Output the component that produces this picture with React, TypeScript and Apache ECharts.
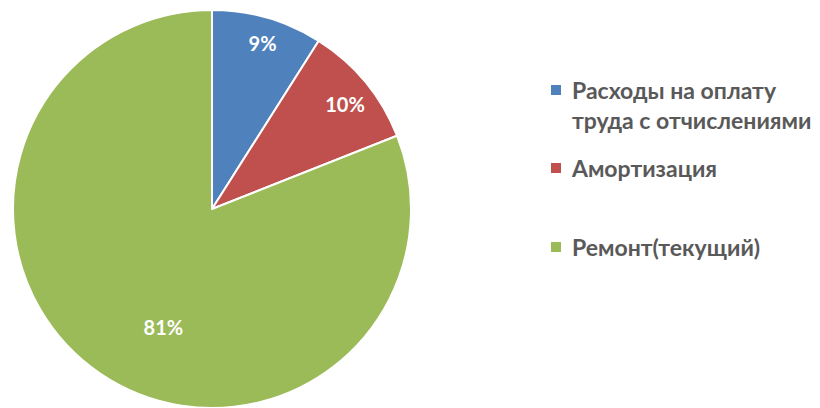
import React, { useEffect, useRef } from "react";
import * as echarts from "echarts";

const categories = ["Расходы на оплату труда с отчислениями", "Амортизация", "Ремонт(текущий)"];
const legendTexts = [" \nРасходы на оплату\nтруда с отчислениями", "Амортизация", "Ремонт(текущий)"];
const values = [9, 10, 81];
const colors = ["#4F81BD", "#C0504D", "#9BBB59"];

const FONT = "Lato, 'Open Sans', sans-serif";

export default function App() {
  const ref = useRef<HTMLDivElement>(null);
  useEffect(() => {
    if (!ref.current) return;
    const chart = echarts.init(ref.current, null, { renderer: "svg" });
    const labelShift = [
      [22, -68],
      [54, -40],
      [9, 33],
    ];
    const legendTops = [45, 153, 232];
    const legends = categories.map((name, i) => ({
      orient: "vertical",
      left: 551,
      top: legendTops[i],
      padding: 0,
      itemWidth: 16,
      itemHeight: 10,
      icon: "path://M0,0h10v10h-10z M16,0h0.01",
      selectedMode: false,
      formatter: () => legendTexts[i],
      data: [name],
      itemStyle: { borderWidth: 0 },
      textStyle: {
        fontFamily: FONT,
        fontWeight: "bold",
        fontSize: 23,
        color: "#595959",
        lineHeight: 30,
      },
    }));
    chart.setOption({
      animation: false,
      color: colors,
      legend: legends,
      series: [
        {
          type: "pie",
          center: [212, 209],
          radius: 199,
          startAngle: 90,
          clockwise: true,
          itemStyle: { borderColor: "#ffffff", borderWidth: 2 },
          label: {
            position: "inside",
            formatter: "{d}%",
            color: "#ffffff",
            fontFamily: FONT,
            fontWeight: "bold",
            fontSize: 20,
          },
          labelLayout: (p: any) => ({ dx: labelShift[p.dataIndex][0], dy: labelShift[p.dataIndex][1] }),
          emphasis: { disabled: true },
          data: categories.map((name, i) => ({ name, value: values[i] })),
        },
      ],
    });
    return () => chart.dispose();
  }, []);
  return <div ref={ref} style={{ width: 820, height: 408, position: "absolute", left: 0, top: 0 }} />;
}
